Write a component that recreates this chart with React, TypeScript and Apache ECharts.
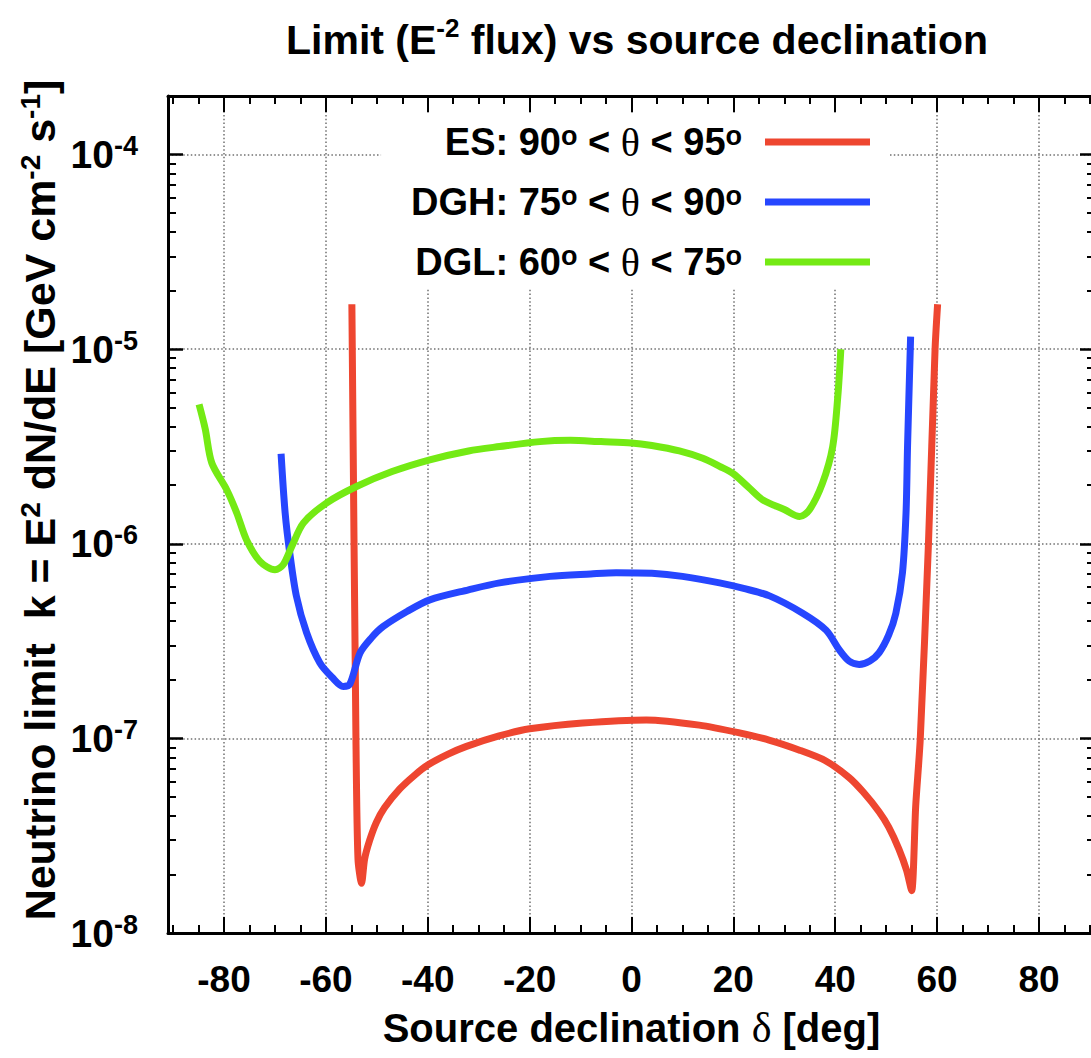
import React, { useEffect, useRef } from 'react';
import * as echarts from 'echarts';

// ---------- data ----------
const esDecl = [-54.9, -54.1, -53.7, -53.0, -52.4, -51.4, -50.1, -48.5, -45.5, -42.5, -40, -36, -32.4, -26, -20, -9.6, 2.9, 13.3, 21, 27, 33, 38, 42.7, 45.5, 48.6, 50.5, 52.5, 54, 55.0, 55.8, 56.7, 58.3, 59.6, 60.1];
const esLimit = [1.7e-5, 1.0e-7, 2.4e-8, 1.8e-8, 2.4e-8, 3.0e-8, 3.7e-8, 4.4e-8, 5.5e-8, 6.5e-8, 7.3e-8, 8.3e-8, 9.1e-8, 1.03e-7, 1.12e-7, 1.2e-7, 1.245e-7, 1.17e-7, 1.07e-7, 9.8e-8, 8.7e-8, 7.7e-8, 6.3e-8, 5.3e-8, 4.2e-8, 3.5e-8, 2.7e-8, 2.1e-8, 1.65e-8, 4.5e-8, 1.0e-7, 1.0e-6, 1.0e-5, 1.7e-5];

const dghDecl = [-68.8, -68.0, -67.1, -65.8, -63.8, -61.2, -58.7, -56.6, -55.3, -53.3, -51, -48.8, -44, -39.6, -32, -25.9, -16, -8, -3, 4, 10, 17.3, 22, 27.1, 33.6, 38.2, 40.8, 42.7, 44.7, 46.8, 48.6, 50.5, 51.9, 53.2, 53.9, 54.2, 54.8];
const dghLimit = [2.9e-6, 1.44e-6, 9.0e-7, 5.4e-7, 3.5e-7, 2.45e-7, 2.05e-7, 1.85e-7, 1.9e-7, 2.75e-7, 3.3e-7, 3.75e-7, 4.5e-7, 5.15e-7, 5.8e-7, 6.3e-7, 6.8e-7, 7.0e-7, 7.1e-7, 7.05e-7, 6.8e-7, 6.3e-7, 5.9e-7, 5.4e-7, 4.4e-7, 3.6e-7, 2.85e-7, 2.5e-7, 2.4e-7, 2.5e-7, 2.75e-7, 3.4e-7, 4.4e-7, 7.1e-7, 1.44e-6, 3.2e-6, 1.16e-5];

const dglDecl = [-84.9, -83.7, -82.4, -79.5, -77.5, -75.6, -72.9, -70, -68.4, -66.7, -64.4, -59.9, -54, -47, -39.6, -32, -25.9, -18, -12, -6, 0, 4, 9.4, 14, 17.3, 19.9, 23, 25.8, 30, 33, 34.9, 37.5, 39.5, 40.5, 41.1];
const dglLimit = [5.2e-6, 3.9e-6, 2.6e-6, 1.9e-6, 1.44e-6, 1.05e-6, 8.1e-7, 7.35e-7, 7.8e-7, 9.7e-7, 1.28e-6, 1.62e-6, 1.97e-6, 2.35e-6, 2.7e-6, 3.0e-6, 3.16e-6, 3.35e-6, 3.4e-6, 3.35e-6, 3.3e-6, 3.2e-6, 3.0e-6, 2.75e-6, 2.5e-6, 2.3e-6, 1.95e-6, 1.68e-6, 1.5e-6, 1.38e-6, 1.49e-6, 2.05e-6, 3.16e-6, 5.7e-6, 1.0e-5];

const seriesNames = ['ES', 'DGH', 'DGL'];
const legendLabels: Record<string, string> = {
  ES: '{b|ES: 90}{s|o}{b| < }{t|θ}{b| < 95}{e|o}',
  DGH: '{b|DGH: 75}{s|o}{b| < }{t|θ}{b| < 90}{e|o}',
  DGL: '{b|DGL: 60}{s|o}{b| < }{t|θ}{b| < 75}{e|o}',
};

const xMajorTicks = [-80, -60, -40, -20, 0, 20, 40, 60, 80];
const xMinorTicks = [-90, -85, -80, -75, -70, -65, -60, -55, -50, -45, -40, -35, -30, -25, -20, -15, -10, -5, 0, 5, 10, 15, 20, 25, 30, 35, 40, 45, 50, 55, 60, 65, 70, 75, 80, 85, 90];
const yMinorTicks = [
  2e-8, 3e-8, 4e-8, 5e-8, 6e-8, 7e-8, 8e-8, 9e-8,
  2e-7, 3e-7, 4e-7, 5e-7, 6e-7, 7e-7, 8e-7, 9e-7,
  2e-6, 3e-6, 4e-6, 5e-6, 6e-6, 7e-6, 8e-6, 9e-6,
  2e-5, 3e-5, 4e-5, 5e-5, 6e-5, 7e-5, 8e-5, 9e-5,
];

const X_MIN = -91;
const X_MAX = 91;
const Y_MIN = 1e-8;
const Y_MAX = 2e-4;

const COLORS = ['#ee4630', '#2646ff', '#74ea14'];
const FONT = 'Liberation Sans, Arial, Helvetica, sans-serif';
const SERIF = 'Liberation Serif, Times New Roman, serif';

const zip = (xs: number[], ys: number[]) => xs.map((x, i) => [x, ys[i]]);

export default function App() {
  const ref = useRef<HTMLDivElement>(null);

  useEffect(() => {
    document.body.style.margin = '0';
    if (!ref.current) return;
    const chart = echarts.init(ref.current, null, { renderer: 'svg' });

    const grid = { left: 168, right: -4, top: 96, bottom: 125, show: false, containLabel: false, outerBoundsMode: 'none' };
    const dotted = { color: '#707070', width: 1.5, type: [1.5, 2.3] as any };
    const border = { show: true, onZero: false, lineStyle: { color: '#000', width: 3 } };
    const noLine = { show: false, onZero: false };

    const bold = (size: number) => ({ fontFamily: FONT, fontWeight: 'bold', fontSize: size, color: '#000' });

    const logMinorLogs = yMinorTicks.map((v) => Math.log10(v));

    const option: any = {
      animation: false,
      backgroundColor: '#fff',
      grid,
      title: {
        text: '{a|Limit (E}{s|-2}{a| flux) vs source declination}',
        left: 632,
        top: 10,
        textAlign: 'center',
        textStyle: {
          rich: {
            a: { ...bold(41), lineHeight: 50 },
            s: { ...bold(26), verticalAlign: 'top' },
          },
        },
      },
      legend: {
        orient: 'vertical',
        right: 202,
        top: 113,
        align: 'right',
        icon: 'rect',
        itemWidth: 105,
        itemHeight: 7,
        itemGap: 20,
        backgroundColor: '#fff',
        padding: [9, 19, 7, 30],
        selectedMode: false,
        data: seriesNames,
        formatter: (name: string) => legendLabels[name],
        textStyle: {
          rich: {
            b: { ...bold(38), lineHeight: 40 },
            s: { ...bold(27), verticalAlign: 'top' },
            e: { ...bold(27), verticalAlign: 'top', padding: [0, 18, 0, 0] },
            t: { fontFamily: SERIF, fontWeight: 'normal', fontSize: 40, color: '#000' },
          },
        },
      },
      xAxis: [
        {
          type: 'value', gridIndex: 0, position: 'bottom', min: X_MIN, max: X_MAX,
          axisLine: border,
          axisTick: { show: true, inside: true, length: 16, customValues: xMajorTicks, lineStyle: { color: '#000', width: 2 } },
          axisLabel: { customValues: xMajorTicks, margin: 28, ...bold(37) },
          splitLine: { show: true, lineStyle: dotted },
          name: '{a|Source declination }{g|δ}{a| [deg]}',
          nameLocation: 'middle',
          nameGap: 74,
          nameTextStyle: {
            rich: {
              a: bold(40),
              g: { fontFamily: SERIF, fontWeight: 'normal', fontSize: 42, color: '#000' },
            },
          },
        },
        {
          type: 'value', gridIndex: 0, position: 'bottom', min: X_MIN, max: X_MAX,
          axisLine: noLine,
          axisTick: { show: true, inside: true, length: 8, customValues: xMinorTicks, lineStyle: { color: '#000', width: 2 } },
          axisLabel: { show: false },
          splitLine: { show: false },
        },
        {
          type: 'value', gridIndex: 0, position: 'top', min: X_MIN, max: X_MAX,
          axisLine: border,
          axisTick: { show: true, inside: true, length: 16, customValues: xMajorTicks, lineStyle: { color: '#000', width: 2 } },
          axisLabel: { show: false },
          splitLine: { show: false },
        },
        {
          type: 'value', gridIndex: 0, position: 'top', min: X_MIN, max: X_MAX,
          axisLine: noLine,
          axisTick: { show: true, inside: true, length: 8, customValues: xMinorTicks, lineStyle: { color: '#000', width: 2 } },
          axisLabel: { show: false },
          splitLine: { show: false },
        },
      ],
      yAxis: [
        {
          type: 'log', gridIndex: 0, position: 'left', min: Y_MIN, max: Y_MAX, logBase: 10,
          axisLine: border,
          axisTick: { show: true, inside: true, length: 15, lineStyle: { color: '#000', width: 2.5 } },
          axisLabel: {
            margin: 30,
            formatter: (v: number) => {
              const l = Math.log10(v);
              const r = Math.round(l);
              if (Math.abs(l - r) > 0.01) return '';
              return '{b|10}{s|' + String(r) + '}';
            },
            rich: {
              b: { ...bold(39), lineHeight: 44 },
              s: { ...bold(27), verticalAlign: 'top' },
            },
          },
          splitLine: { show: true, lineStyle: dotted },
        },
        {
          type: 'value', gridIndex: 0, position: 'left', min: -8, max: Math.log10(Y_MAX),
          axisLine: noLine,
          axisTick: { show: true, inside: true, length: 8, customValues: logMinorLogs, lineStyle: { color: '#000', width: 2 } },
          axisLabel: { show: false },
          splitLine: { show: false },
        },
        {
          type: 'log', gridIndex: 0, position: 'right', min: Y_MIN, max: Y_MAX, logBase: 10,
          axisLine: border,
          axisTick: { show: true, inside: true, length: 15, lineStyle: { color: '#000', width: 2.5 } },
          axisLabel: { show: false },
          splitLine: { show: false },
        },
        {
          type: 'value', gridIndex: 0, position: 'right', min: -8, max: Math.log10(Y_MAX),
          axisLine: noLine,
          axisTick: { show: true, inside: true, length: 8, customValues: logMinorLogs, lineStyle: { color: '#000', width: 2 } },
          axisLabel: { show: false },
          splitLine: { show: false },
        },
      ],
      graphic: [
        {
          type: 'text',
          x: 40,
          y: 500,
          rotation: Math.PI / 2,
          style: {
            text: '{a|Neutrino limit  k = E}{s|2}{a| dN/dE [GeV cm}{s|-2}{a| s}{s|-1}{a|]}',
            align: 'center',
            verticalAlign: 'middle',
            rich: {
              a: { ...bold(43), lineHeight: 48 },
              s: { ...bold(28), verticalAlign: 'top' },
            },
          },
        },
      ],
      series: [
        { name: 'ES', type: 'line', data: zip(esDecl, esLimit), xAxisIndex: 0, yAxisIndex: 0, showSymbol: false, smooth: 0.25, lineStyle: { color: COLORS[0], width: 7 }, itemStyle: { color: COLORS[0] }, z: 3 },
        { name: 'DGH', type: 'line', data: zip(dghDecl, dghLimit), xAxisIndex: 0, yAxisIndex: 0, showSymbol: false, smooth: 0.3, lineStyle: { color: COLORS[1], width: 7 }, itemStyle: { color: COLORS[1] }, z: 3 },
        { name: 'DGL', type: 'line', data: zip(dglDecl, dglLimit), xAxisIndex: 0, yAxisIndex: 0, showSymbol: false, smooth: 0.3, lineStyle: { color: COLORS[2], width: 7 }, itemStyle: { color: COLORS[2] }, z: 3 },
      ],
    };

    chart.setOption(option);
    return () => chart.dispose();
  }, []);

  return <div ref={ref} style={{ width: 1091, height: 1058 }} />;
}
